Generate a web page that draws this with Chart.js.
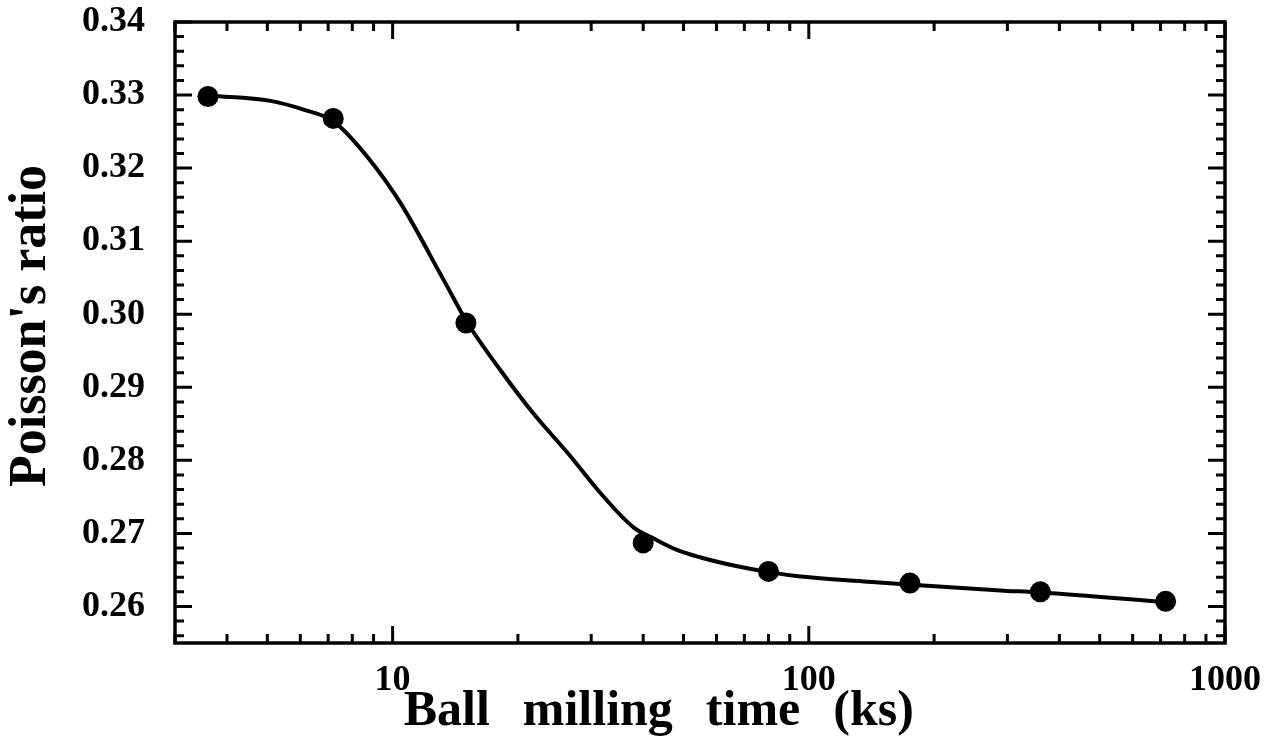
<!DOCTYPE html>
<html><head><meta charset="utf-8">
<script src="https://cdn.jsdelivr.net/npm/chart.js@4.4.1/dist/chart.umd.min.js"></script>
<style>html,body{margin:0;padding:0;background:#fff;} #wrap{width:1278px;height:754px;}</style>
</head><body><div id="wrap"><canvas id="c" width="1278" height="754"></canvas></div>
<script>
// Measured points
const millingTime = [3.6, 7.2, 15, 40, 80, 175, 360, 720];
const poissonRatio = [0.3298, 0.3268, 0.2988, 0.2687, 0.2648, 0.2632, 0.2620, 0.2607];
// Fitted curve
const curveTime = [3.65, 5.09, 6.11, 7.21, 8.71, 10.45, 13.26, 15.14, 18.18, 21.8, 26.35, 31.6, 37.97, 42.4, 48.4, 55.0, 66.0, 80.1, 95.7, 138.7, 173, 289, 361, 718];
const curveRatio = [0.3299, 0.3292, 0.3280, 0.3264, 0.3215, 0.3152, 0.3047, 0.2988, 0.2923, 0.2864, 0.2810, 0.2755, 0.2708, 0.2693, 0.2677, 0.2667, 0.2656, 0.2647, 0.2641, 0.2634, 0.2630, 0.2622, 0.2619, 0.2606];
// Axis ticks
const xTickValues = [10, 100, 1000];
const xTickLabels = ['10', '100', '1000'];
const xMinorTicks = [3,4,5,6,7,8,9,20,30,40,50,60,70,80,90,200,300,400,500,600,700,800,900];
const yTickValues = [0.26, 0.27, 0.28, 0.29, 0.30, 0.31, 0.32, 0.33, 0.34];
const yTickLabels = ['0.26', '0.27', '0.28', '0.29', '0.30', '0.31', '0.32', '0.33', '0.34'];
const yMinorTicks = [0.256,0.258,0.262,0.264,0.266,0.268,0.272,0.274,0.276,0.278,0.282,0.284,0.286,0.288,0.292,0.294,0.296,0.298,0.302,0.304,0.306,0.308,0.312,0.314,0.316,0.318,0.322,0.324,0.326,0.328,0.332,0.334,0.336,0.338];

const FONT = "'Liberation Serif', 'Times New Roman', serif";

const spacingPlugin = {
  id: 'spacing',
  beforeDraw(chart) { try { chart.ctx.wordSpacing = '4px'; } catch (e) {} }
};

const framePlugin = {
  id: 'frame',
  afterDatasetsDraw(chart) {
    const {ctx, chartArea: a, scales: {x, y}} = chart;
    const MAJ = 17, MIN = 9;
    ctx.save();
    ctx.strokeStyle = '#000';
    ctx.lineWidth = 3;
    ctx.lineCap = 'butt';
    ctx.beginPath();
    const xt = (v, len) => {
      const p = x.getPixelForValue(v);
      ctx.moveTo(p, a.bottom); ctx.lineTo(p, a.bottom - len);
      ctx.moveTo(p, a.top); ctx.lineTo(p, a.top + len);
    };
    const yt = (v, len) => {
      const p = y.getPixelForValue(v);
      ctx.moveTo(a.left, p); ctx.lineTo(a.left + len, p);
      ctx.moveTo(a.right, p); ctx.lineTo(a.right - len, p);
    };
    xTickValues.forEach(v => xt(v, MAJ));
    xMinorTicks.forEach(v => xt(v, MIN));
    yTickValues.forEach(v => yt(v, MAJ));
    yMinorTicks.forEach(v => yt(v, MIN));
    ctx.stroke();
    ctx.lineWidth = 3.5;
    ctx.strokeRect(a.left, a.top, a.right - a.left, a.bottom - a.top);
    ctx.restore();
  }
};

new Chart(document.getElementById('c'), {
  type: 'scatter',
  data: {
    datasets: [
      {
        label: 'fit',
        data: curveTime.map((t, i) => ({x: t, y: curveRatio[i]})),
        showLine: true,
        borderColor: '#000',
        borderWidth: 4,
        pointRadius: 0,
        fill: false,
        cubicInterpolationMode: 'monotone',
        order: 2
      },
      {
        label: 'Poisson\'s ratio',
        data: millingTime.map((t, i) => ({x: t, y: poissonRatio[i]})),
        showLine: false,
        pointRadius: 10.5,
        pointBackgroundColor: '#000',
        pointBorderColor: '#000',
        pointBorderWidth: 0,
        order: 1
      }
    ]
  },
  options: {
    responsive: false,
    animation: false,
    layout: {padding: {top: 22, right: 53, left: 0, bottom: 0}},
    plugins: {legend: {display: false}, tooltip: {enabled: false}},
    scales: {
      x: {
        type: 'logarithmic',
        min: 3, max: 1000,
        position: 'bottom',
        afterBuildTicks(s) { s.ticks = xTickValues.map(v => ({value: v})); },
        afterFit(s) { s.height = 111; s.paddingLeft = 0; s.paddingRight = 0; },
        grid: {display: false, drawTicks: false},
        border: {display: false},
        ticks: {
          autoSkip: false, maxRotation: 0, padding: 16, color: '#000',
          font: {family: FONT, weight: 'bold', size: 36},
          callback: (v, i) => xTickLabels[i]
        },
        title: {
          display: true, text: 'Ball  milling  time  (ks)     ', color: '#000',
          font: {family: FONT, weight: 'bold', size: 50},
          padding: {top: 0, bottom: 12}
        }
      },
      y: {
        min: 0.255, max: 0.34,
        afterBuildTicks(s) { s.ticks = yTickValues.map(v => ({value: v})); },
        afterFit(s) { s.width = 175; s.paddingTop = 0; s.paddingBottom = 0; },
        grid: {display: false, drawTicks: false},
        border: {display: false},
        ticks: {
          autoSkip: false, padding: 30, color: '#000',
          font: {family: FONT, weight: 'bold', size: 36},
          callback: (v, i) => yTickLabels[i]
        },
        title: {
          display: true, text: " Poisson's ratio", color: '#000',
          font: {family: FONT, weight: 'bold', size: 52},
          padding: {top: 0, bottom: 0}
        }
      }
    }
  },
  plugins: [spacingPlugin, framePlugin]
});
</script>
</body></html>
